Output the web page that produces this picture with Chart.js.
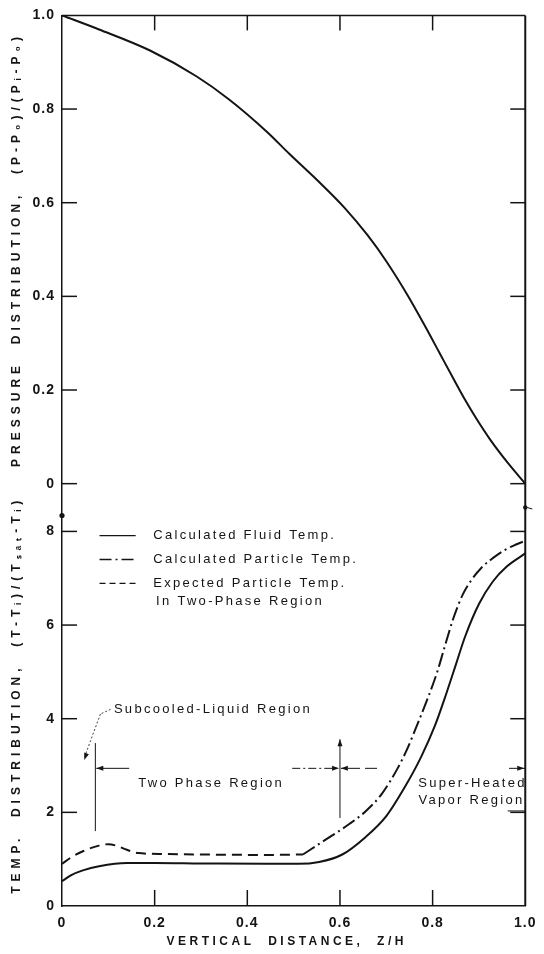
<!DOCTYPE html>
<html>
<head>
<meta charset="utf-8">
<script src="https://cdn.jsdelivr.net/npm/chart.js@4.4.1/dist/chart.umd.min.js"></script>
<style>
  html, body { margin: 0; padding: 0; background: #fff; }
  canvas { display: block; }
</style>
</head>
<body>
<canvas id="chart" width="544" height="954"></canvas>
<script>
// Axis ticks
const X_TICKS = [0, 0.2, 0.4, 0.6, 0.8, 1.0];
const PRESSURE_TICKS = [0, 0.2, 0.4, 0.6, 0.8, 1.0];
const TEMP_TICKS = [0, 2, 4, 6, 8];

// Upper panel: pressure distribution along the bed
const pressureZ = [0, 0.08, 0.19, 0.29, 0.36, 0.445, 0.49, 0.55, 0.61, 0.66, 0.70, 0.745, 0.785, 0.815, 0.845, 0.87, 0.895, 0.925, 0.965, 1.0];
const pressure = [1.0, 0.970, 0.925, 0.870, 0.821, 0.749, 0.705, 0.649, 0.589, 0.530, 0.475, 0.404, 0.334, 0.279, 0.224, 0.179, 0.138, 0.093, 0.041, 0];

// Lower panel: temperature distributions
const fluidZ = [0, 0.02, 0.045, 0.08, 0.14, 0.2, 0.3, 0.44, 0.51, 0.555, 0.605, 0.655, 0.70, 0.74, 0.775, 0.805, 0.83, 0.85, 0.87, 0.90, 0.93, 0.96, 1.0];
const fluidTemp = [0.53, 0.66, 0.76, 0.85, 0.92, 0.92, 0.91, 0.90, 0.90, 0.94, 1.10, 1.47, 1.92, 2.54, 3.18, 3.85, 4.55, 5.15, 5.75, 6.45, 6.93, 7.25, 7.53];

const particleZ = [0.52, 0.565, 0.62, 0.655, 0.69, 0.725, 0.745, 0.77, 0.79, 0.81, 0.825, 0.845, 0.865, 0.885, 0.905, 0.93, 0.955, 0.98, 1.0];
const particleTemp = [1.10, 1.39, 1.75, 2.02, 2.39, 2.95, 3.35, 3.95, 4.45, 5.00, 5.50, 6.15, 6.65, 6.98, 7.22, 7.43, 7.60, 7.72, 7.80];

const expectedZ = [0, 0.02, 0.045, 0.08, 0.10, 0.12, 0.14, 0.165, 0.22, 0.3, 0.44, 0.52];
const expectedTemp = [0.90, 1.04, 1.17, 1.29, 1.32, 1.28, 1.20, 1.13, 1.11, 1.10, 1.09, 1.10];

const X_TITLE = "VERTICAL  DISTANCE,  Z/H";
const PRESSURE_TITLE = "PRESSURE  DISTRIBUTION,  (P-P\u2080)/(P\u1D62-P\u2080)";
const TEMP_TITLE = "TEMP.  DISTRIBUTION,  (T-T\u1D62)/(T\u209B\u2090\u209C-T\u1D62)";
const LEGEND_LABELS = [
  ["Calculated Fluid Temp."],
  ["Calculated Particle Temp."],
  ["Expected Particle Temp.", "In Two-Phase Region"],
];

const INK = "#141414";
const FONT = "Liberation Sans";

const pts = (xs, ys) => xs.map((x, i) => ({ x: x, y: ys[i] }));
const fmt = (v) => (v === 0 ? "0" : v.toFixed(1));

const tickFont = { family: FONT, size: 14, weight: "bold" };
const titleFont = { family: FONT, size: 12, weight: "bold" };

function yAxis(ticks, max, weight, title, fmtFn) {
  return {
    type: "linear",
    position: "left",
    stack: "panels",
    stackWeight: weight,
    min: 0,
    max: max,
    afterBuildTicks: (s) => { s.ticks = ticks.map((v) => ({ value: v })); },
    afterFit: (s) => { s.width = 62; },
    grid: { display: false, drawTicks: false },
    border: { display: true, color: INK, width: 1.5 },
    ticks: { color: INK, font: tickFont, padding: 7, callback: fmtFn, z: 1 },
    title: { display: true, text: title, color: INK, font: titleFont, padding: { top: 9, bottom: 0 } },
  };
}

function arrow(ctx, x, y, dx, dy) {
  // filled arrowhead with its tip at (x, y), pointing along (dx, dy)
  const len = Math.hypot(dx, dy);
  const ux = dx / len, uy = dy / len;
  ctx.beginPath();
  ctx.moveTo(x, y);
  ctx.lineTo(x - ux * 7 - uy * 2.5, y - uy * 7 + ux * 2.5);
  ctx.lineTo(x - ux * 7 + uy * 2.5, y - uy * 7 - ux * 2.5);
  ctx.closePath();
  ctx.fill();
}

function seg(ctx, x1, y1, x2, y2, dash, width) {
  ctx.save();
  ctx.lineWidth = width || 1.2;
  ctx.setLineDash(dash || []);
  ctx.beginPath();
  ctx.moveTo(x1, y1);
  ctx.lineTo(x2, y2);
  ctx.stroke();
  ctx.restore();
}

const frame = {
  id: "frame",
  // y axis titles are drawn in the first layer, tick labels after the datasets
  beforeDraw(chart) { chart.ctx.letterSpacing = "5px"; },
  beforeDatasetsDraw(chart) { chart.ctx.letterSpacing = "0px"; },
  afterDatasetsDraw(chart) { chart.ctx.letterSpacing = "1px"; },
  afterDraw(chart) {
    const ctx = chart.ctx;
    const { left, right, top, bottom } = chart.chartArea;
    const xs = chart.scales.x, yP = chart.scales.yP, yT = chart.scales.yT;
    const X = (v) => xs.getPixelForValue(v);
    const YT = (v) => yT.getPixelForValue(v);
    const YP = (v) => yP.getPixelForValue(v);

    ctx.save();
    ctx.strokeStyle = INK;
    ctx.fillStyle = INK;
    ctx.letterSpacing = "0px";

    // top and right frame
    seg(ctx, left, top, right, top, [], 1.5);
    seg(ctx, right, top, right, bottom, [], 2);

    // inward tick marks
    const tl = 15;
    X_TICKS.slice(1, -1).forEach((v) => {
      seg(ctx, X(v), bottom, X(v), bottom - tl - 1, [], 1.5);
      seg(ctx, X(v), top, X(v), top + tl, [], 1.5);
    });
    PRESSURE_TICKS.slice(0, -1).forEach((v) => {
      seg(ctx, left, YP(v), left + tl, YP(v), [], 1.5);
      seg(ctx, right, YP(v), right - tl, YP(v), [], 1.5);
    });
    TEMP_TICKS.slice(1).forEach((v) => {
      seg(ctx, left, YT(v), left + tl, YT(v), [], 1.5);
      seg(ctx, right, YT(v), right - tl, YT(v), [], 1.5);
    });

    // axis break marks between the panels
    ctx.beginPath();
    ctx.arc(left, YT(8.34), 2.6, 0, Math.PI * 2);
    ctx.fill();
    ctx.beginPath();
    ctx.arc(right, YT(8.51), 2.2, 0, Math.PI * 2);
    ctx.fill();
    seg(ctx, right + 2, YT(8.51), right + 7, YT(8.48), [], 1);

    // x axis title
    ctx.font = "bold 12px " + FONT;
    ctx.letterSpacing = "3.5px";
    ctx.textBaseline = "middle";
    ctx.textAlign = "center";
    ctx.fillText(X_TITLE, X(0.485), bottom + 36);

    // legend, styled from the temperature datasets
    ctx.font = "13px " + FONT;
    ctx.letterSpacing = "2.3px";
    ctx.textAlign = "left";
    const rows = [7.91, 7.40, 6.89];
    chart.data.datasets.slice(1).forEach((ds, i) => {
      const y = YT(rows[i]);
      seg(ctx, X(0.081), y, X(0.159), y, ds.legendDash, 1.4);
      LEGEND_LABELS[i].forEach((line, k) => {
        ctx.fillText(line, X(k === 0 ? 0.197 : 0.203), y + k * 18);
      });
    });

    // region annotations
    const yArrow = YT(2.94);
    ctx.fillText("Subcooled-Liquid Region", X(0.112), YT(4.2));
    seg(ctx, X(0.105), YT(4.2), X(0.083), YT(4.1), [2, 2], 0.8);
    seg(ctx, X(0.083), YT(4.1), X(0.05), YT(3.22), [2, 2], 0.8);
    arrow(ctx, X(0.048), YT(3.12), -0.35, 1);

    seg(ctx, X(0.072), YT(3.48), X(0.072), YT(1.6), [], 1);
    seg(ctx, X(0.074), yArrow, X(0.145), yArrow, [], 1);
    arrow(ctx, X(0.074), yArrow, -1, 0);

    ctx.textAlign = "center";
    ctx.fillText("Two Phase Region", X(0.322), YT(2.62));

    seg(ctx, X(0.6), YT(3.56), X(0.6), YT(1.88), [], 1);
    arrow(ctx, X(0.6), YT(3.56), 0, -1);
    seg(ctx, X(0.497), yArrow, X(0.598), yArrow, [8, 3, 2, 3], 1);
    arrow(ctx, X(0.598), yArrow, 1, 0);
    seg(ctx, X(0.68), yArrow, X(0.602), yArrow, [12, 5], 1);
    arrow(ctx, X(0.602), yArrow, -1, 0);

    seg(ctx, X(0.965), yArrow, X(1.0), yArrow, [], 1);
    arrow(ctx, X(1.0) - 1, yArrow, 1, 0);

    ctx.fillText("Super-Heated", X(0.886), YT(2.62));
    ctx.fillText("Vapor Region", X(0.884), YT(2.26));
    seg(ctx, X(0.962), YT(2.03), X(1.0), YT(2.03), [], 1);

    ctx.restore();
  },
};

const datasets = [
  { label: "Pressure", data: pts(pressureZ, pressure), yAxisID: "yP", borderDash: [] },
  { label: LEGEND_LABELS[0].join(" "), data: pts(fluidZ, fluidTemp), yAxisID: "yT", borderDash: [], legendDash: [] },
  { label: LEGEND_LABELS[1].join(" "), data: pts(particleZ, particleTemp), yAxisID: "yT", borderDash: [14, 4, 2, 4], legendDash: [12, 4, 2, 4] },
  { label: LEGEND_LABELS[2].join(" "), data: pts(expectedZ, expectedTemp), yAxisID: "yT", borderDash: [10, 6], legendDash: [6, 4] },
].map((ds) => Object.assign({ showLine: true, borderColor: INK, borderWidth: 2, pointRadius: 0, cubicInterpolationMode: "monotone" }, ds));

new Chart(document.getElementById("chart"), {
  type: "scatter",
  data: { datasets: datasets },
  options: {
    responsive: false,
    animation: false,
    events: [],
    layout: { padding: { top: 14, right: 10, left: 0, bottom: 0 } },
    plugins: { legend: { display: false }, tooltip: { enabled: false } },
    scales: {
      x: {
        type: "linear",
        position: "bottom",
        min: 0,
        max: 1,
        afterBuildTicks: (s) => { s.ticks = X_TICKS.map((v) => ({ value: v })); },
        afterFit: (s) => { s.height = 48; },
        grid: { display: false, drawTicks: false },
        border: { display: true, color: INK, width: 1.5 },
        ticks: { color: INK, font: tickFont, padding: 9, callback: fmt, maxRotation: 0, z: 1 },
        title: { display: false },
      },
      yT: yAxis(TEMP_TICKS, 9.02, 423, TEMP_TITLE, (v) => String(v)),
      yP: yAxis(PRESSURE_TICKS, 1.0, 469, PRESSURE_TITLE, fmt),
    },
  },
  plugins: [frame],
});
</script>
</body>
</html>
